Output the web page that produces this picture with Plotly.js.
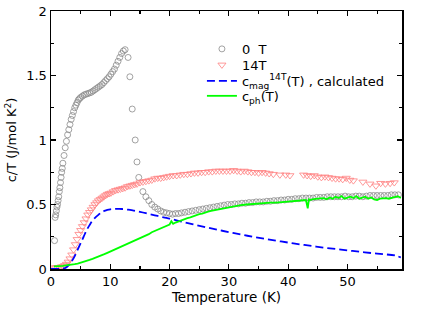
<!DOCTYPE html>
<html><head><meta charset="utf-8">
<script src="https://cdn.plot.ly/plotly-3.0.1.min.js"></script>
<style>body{margin:0;background:#fff}#c{width:436px;height:317px}</style>
</head><body><div id="c"></div>
<script>
// 0 T data (grey open circles)
const T0 = [0.6,0.7,0.8,0.9,1.0,1.1,1.2,1.3,1.4,1.5,1.6,1.7,1.8,1.9,2.0,2.2,2.4,2.6,2.8,3.0,3.2,3.4,3.6,3.8,4.0,4.2,4.4,4.6,4.8,5.0,5.3,5.6,5.9,6.2,6.5,6.8,7.1,7.4,7.7,8.0,8.3,8.6,8.9,9.2,9.5,9.8,10.1,10.4,10.7,11.0,11.3,11.6,11.9,12.2,12.5,13.0,13.3,13.7,14.2,14.5,14.8,15.5,16.0,16.5,17.0,17.5,18.0,18.5,19.0,19.5,20.0,20.5,21.0,21.5,22.0,22.6,23.2,23.8,24.4,25.0,25.6,26.2,26.8,27.4,28.0,28.6,29.2,29.8,30.4,31.0,31.6,32.2,32.8,33.4,34.0,34.6,35.2,35.8,36.4,37.0,37.6,38.2,38.8,39.4,40.0,40.6,41.2,41.8,42.4,43.0,43.6,44.2,44.8,45.4,46.0,46.6,47.2,47.8,48.4,49.0,49.6,50.2,50.8,51.4,52.0,52.6,53.2,53.8,54.4,55.0,55.6,56.2,56.8,57.4,58.0,58.6];
const C0 = [0.22,0.40,0.42,0.45,0.48,0.50,0.53,0.56,0.60,0.63,0.67,0.71,0.75,0.78,0.82,0.88,0.94,0.99,1.04,1.08,1.12,1.16,1.19,1.22,1.25,1.27,1.29,1.31,1.32,1.33,1.34,1.35,1.355,1.36,1.365,1.37,1.38,1.39,1.40,1.41,1.42,1.43,1.445,1.46,1.475,1.49,1.51,1.53,1.55,1.58,1.61,1.64,1.67,1.69,1.70,1.64,1.49,1.24,1.00,0.83,0.71,0.60,0.56,0.53,0.50,0.48,0.465,0.45,0.44,0.435,0.43,0.425,0.43,0.43,0.435,0.44,0.445,0.45,0.455,0.46,0.465,0.47,0.475,0.48,0.485,0.49,0.495,0.50,0.50,0.505,0.505,0.51,0.51,0.515,0.515,0.52,0.52,0.52,0.525,0.525,0.53,0.53,0.535,0.535,0.54,0.54,0.545,0.545,0.55,0.55,0.55,0.55,0.555,0.555,0.555,0.56,0.56,0.56,0.56,0.56,0.565,0.56,0.56,0.565,0.565,0.56,0.565,0.57,0.57,0.57,0.57,0.57,0.57,0.575,0.575,0.575];
// 14 T data (red open down-triangles)
const T14 = [0.5,0.8,1.1,1.4,1.7,2.0,2.3,2.6,2.9,3.2,3.5,3.8,4.1,4.4,4.7,5.0,5.3,5.6,5.9,6.2,6.5,6.8,7.1,7.4,7.7,8.0,8.3,8.6,8.9,9.2,9.5,9.8,10.1,10.5,10.9,11.3,11.7,12.1,12.5,12.9,13.3,13.7,14.1,14.5,15.0,15.5,16.0,16.5,17.0,17.5,18.0,18.5,19.0,19.5,20.0,20.6,21.2,21.8,22.4,23.0,23.6,24.2,24.8,25.4,26.0,26.6,27.2,27.8,28.4,29.0,29.6,30.2,30.8,31.4,32.0,32.6,33.2,33.8,34.4,35.0,35.6,36.2,36.8,37.5,38.6,39.6,40.3,42.6,43.2,43.8,44.4,45.0,45.6,46.2,46.8,47.4,48.0,48.6,49.2,49.8,50.4,51.0,52.6,53.8,54.8,55.6,56.4,57.2,57.9];
const C14 = [0.01,0.01,0.012,0.014,0.017,0.02,0.028,0.038,0.055,0.08,0.11,0.15,0.19,0.23,0.27,0.30,0.33,0.36,0.39,0.42,0.44,0.46,0.48,0.50,0.515,0.53,0.54,0.55,0.56,0.57,0.58,0.585,0.59,0.60,0.61,0.615,0.62,0.625,0.63,0.64,0.645,0.65,0.655,0.66,0.67,0.675,0.68,0.685,0.69,0.70,0.705,0.705,0.71,0.715,0.72,0.725,0.725,0.73,0.735,0.735,0.74,0.745,0.745,0.75,0.75,0.755,0.755,0.76,0.76,0.76,0.76,0.76,0.765,0.76,0.755,0.76,0.755,0.75,0.75,0.745,0.75,0.745,0.74,0.735,0.73,0.73,0.725,0.73,0.725,0.72,0.725,0.715,0.71,0.715,0.71,0.705,0.70,0.70,0.695,0.705,0.69,0.685,0.675,0.66,0.645,0.665,0.66,0.665,0.67];
// calculated magnetic contribution at 14 T (blue dashed)
const Tmag = [0,1,2,2.5,3,3.5,4,4.5,5,5.5,6,6.5,7,7.5,8,8.5,9,9.5,10,10.5,11,11.5,12,13,14,15,16,17,18,19,20,22,24,26,28,30,32,34,36,38,40,42,44,46,48,50,52,54,56,58,59];
const Cmag = [0,0,0.002,0.01,0.03,0.06,0.10,0.15,0.20,0.25,0.30,0.34,0.375,0.40,0.42,0.44,0.45,0.458,0.463,0.465,0.466,0.466,0.465,0.46,0.452,0.443,0.433,0.422,0.411,0.40,0.39,0.368,0.346,0.325,0.305,0.286,0.268,0.25,0.234,0.219,0.205,0.191,0.178,0.166,0.155,0.144,0.134,0.124,0.115,0.105,0.09];
// phonon contribution (green line)
const Tph = [0.5,1,1.5,2,2.5,3,3.5,4,4.5,5,5.5,6,6.5,7,7.5,8,8.5,9,9.5,10,10.5,11,11.5,12,12.5,13,13.5,14,14.5,15,15.5,16,16.5,17,17.5,18,18.5,19,19.5,20,20.3,20.6,21,21.5,22,22.5,23,23.5,24,24.5,25,25.5,26,26.5,27,27.5,28,28.5,29,29.5,30,31,32,33,34,35,36,37,38,39,40,41,42,43,43.3,43.5,43.7,44,45,46,46.5,47,47.5,48,48.5,49,49.5,50,50.5,51,51.5,52,52.5,53,53.5,54,54.5,55,55.5,56,56.5,57,57.5,58,58.5,59];
const Cph = [0.02,0.02,0.022,0.025,0.028,0.03,0.033,0.037,0.042,0.048,0.055,0.062,0.07,0.078,0.086,0.095,0.105,0.115,0.125,0.135,0.145,0.158,0.168,0.18,0.19,0.2,0.21,0.22,0.23,0.24,0.25,0.26,0.27,0.285,0.295,0.305,0.315,0.325,0.335,0.345,0.37,0.35,0.36,0.37,0.38,0.385,0.395,0.40,0.41,0.415,0.425,0.43,0.44,0.445,0.45,0.455,0.46,0.465,0.47,0.475,0.48,0.49,0.495,0.50,0.505,0.505,0.51,0.515,0.515,0.52,0.525,0.525,0.53,0.535,0.47,0.54,0.535,0.54,0.545,0.55,0.54,0.555,0.545,0.56,0.55,0.565,0.545,0.555,0.56,0.55,0.565,0.545,0.555,0.56,0.545,0.555,0.54,0.535,0.545,0.55,0.55,0.545,0.55,0.56,0.565,0.55,0.545];

const traces = [
  {x:T0, y:C0, mode:'markers', type:'scatter', name:'0  T', legend:'legend',
   marker:{symbol:'circle-open', size:6, color:'#8a8a8a', line:{width:0.8}}},
  {x:T14, y:C14, mode:'markers', type:'scatter', name:'14T', legend:'legend2',
   marker:{symbol:'triangle-down-open', size:7, color:'#ff8080', line:{width:0.8}}},
  {x:Tmag, y:Cmag, mode:'lines', type:'scatter', name:'c<sub>mag</sub><sup>14T</sup>(T) , calculated', legend:'legend3',
   line:{color:'#0000ff', width:1.8, dash:'8px,4px', shape:'spline'}},
  {x:Tph, y:Cph, mode:'lines', type:'scatter', name:'c<sub>ph</sub>(T)', legend:'legend4',
   line:{color:'#00ff00', width:1.8}}
];
const axisCommon = {showline:true, linecolor:'black', linewidth:1.5, mirror:'allticks', ticks:'inside', ticklen:5, tickwidth:1.2, tickcolor:'black', showgrid:false, zeroline:false, tickfont:{size:13, color:'black'}};
const leg = (y) => ({x:0.43, y:y, xanchor:'left', yanchor:'middle', bgcolor:'rgba(0,0,0,0)', font:{size:13}, itemwidth:30, borderwidth:0});
const layout = {
  width:436, height:317,
  margin:{l:51, r:34, t:11, b:48},
  paper_bgcolor:'white', plot_bgcolor:'white',
  font:{family:'DejaVu Sans, sans-serif', color:'black'},
  xaxis: Object.assign({}, axisCommon, {range:[0,59.2], dtick:10, minor:{dtick:5, ticks:'inside', ticklen:3, tickcolor:'black'},
    title:{text:'Temperature (K)', font:{size:13.5}, standoff:4}}),
  yaxis: Object.assign({}, axisCommon, {range:[0,2], dtick:0.5, minor:{dtick:0.25, ticks:'inside', ticklen:3, tickcolor:'black'},
    title:{text:'c/T (J/mol K<sup>2</sup>)', font:{size:13}, standoff:6}}),
  showlegend:true,
  legend: leg(0.853),
  legend2: leg(0.791),
  legend3: leg(0.729),
  legend4: leg(0.671)
};
Plotly.newPlot('c', traces, layout, {displayModeBar:false, staticPlot:true});
</script></body></html>
